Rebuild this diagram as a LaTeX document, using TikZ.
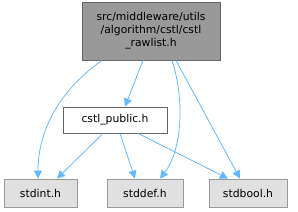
\documentclass[tikz,border=0pt]{standalone}
\usepackage{fontspec}
\setmainfont{DejaVu Sans}
\usetikzlibrary{arrows.meta}
\definecolor{edgeblue}{HTML}{63B8FF}
\definecolor{topfill}{HTML}{999999}
\definecolor{topdraw}{HTML}{666666}
\definecolor{leaffill}{HTML}{E0E0E0}
\definecolor{leafdraw}{HTML}{999999}
\tikzset{
  box/.style={draw, rectangle, inner sep=0pt, line width=0.8pt, font=\fontsize{10.8}{13}\selectfont, align=center},
  topbox/.style={box, fill=topfill, draw=topdraw},
  midbox/.style={box, fill=white, draw=topdraw},
  leafbox/.style={box, fill=leaffill, draw=leafdraw},
  edge/.style={draw=edgeblue, line width=0.8pt, -{Triangle[length=8pt,width=8pt]}},
}
\begin{document}
\begin{tikzpicture}[x=1pt,y=-1pt]
\useasboundingbox (0,0) rectangle (298,212);
\node[topbox, minimum width=138pt, minimum height=58pt] (top) at (151,31) {src/middleware/utils\\/algorithm/cstl/cstl\\\_rawlist.h};
\node[midbox, minimum width=104pt, minimum height=26pt] (pub) at (115,120) {cstl\_public.h};
\node[leafbox, minimum width=73pt, minimum height=28pt] (int) at (40.5,193) {stdint.h};
\node[leafbox, minimum width=76pt, minimum height=28pt] (def) at (145,193) {stddef.h};
\node[leafbox, minimum width=78pt, minimum height=28pt] (bool) at (248,193) {stdbool.h};
\draw[edge] (top.south -| 102,0) .. controls (60,90) and (38,130) .. (int.north -| 38,0);
\draw[edge] (top.south -| 143,0) -- (pub.north -| 125,0);
\draw[edge] (top.south -| 172,0) .. controls (185,100) and (182,150) .. (def.north -| 160,0);
\draw[edge] (top.south -| 176,0) -- (bool.north -| 240,0);
\draw[edge] (pub.south -| 103,0) -- (int.north -| 57,0);
\draw[edge] (pub.south -| 120,0) -- (def.north -| 135,0);
\draw[edge] (pub.south -| 138,0) -- (bool.north -| 228,0);
\end{tikzpicture}
\end{document}
